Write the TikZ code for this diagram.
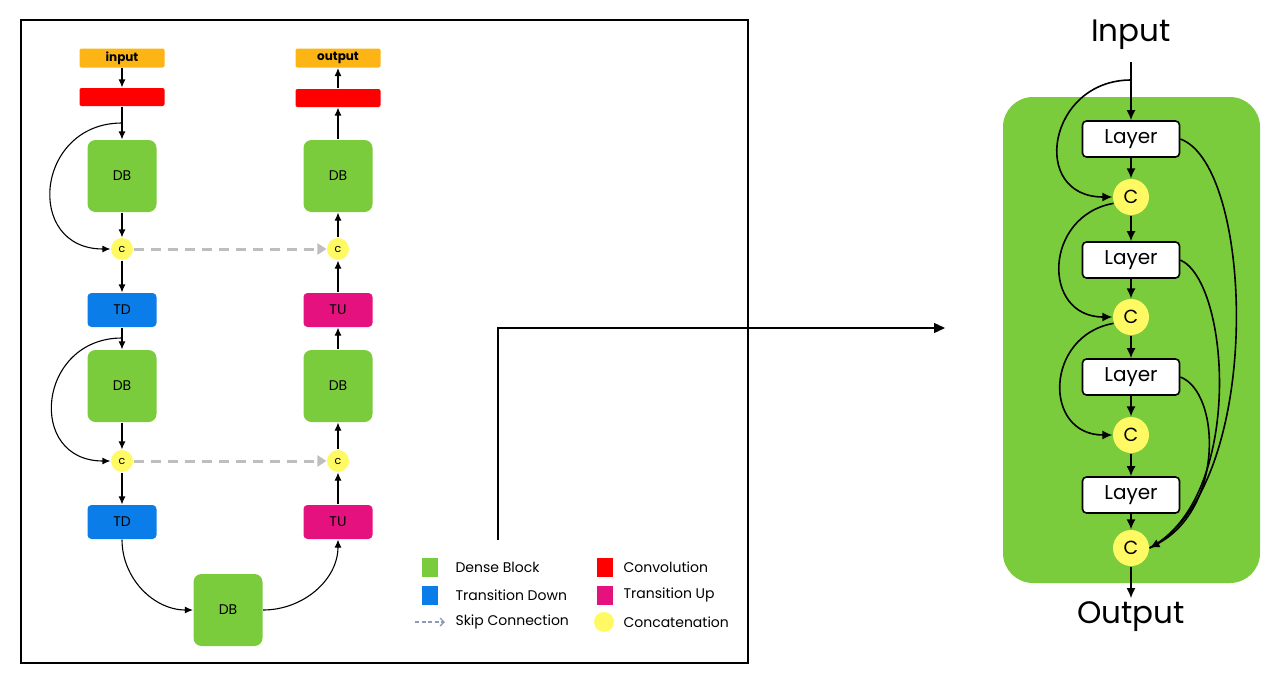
\documentclass[tikz,border=0pt]{standalone}
\usepackage{fontspec}
\setmainfont{Poppins}
\usepackage{tikz}
\usetikzlibrary{arrows.meta,positioning}

\definecolor{dbgreen}{RGB}{122,204,60}
\definecolor{inorange}{RGB}{252,181,20}
\definecolor{convred}{RGB}{255,0,0}
\definecolor{tdblue}{RGB}{10,125,232}
\definecolor{tupink}{RGB}{228,17,126}
\definecolor{catyellow}{RGB}{255,250,100}
\definecolor{skipgray}{RGB}{190,190,190}
\definecolor{legendgray}{RGB}{140,155,180}

\newcommand{\fs}[1]{\fontsize{#1}{#1}\selectfont}

\begin{document}
\begin{tikzpicture}
[x=1pt,y=-1pt,->,>={Latex[length=8pt,width=7pt]},line width=1.1pt,
io/.style={rectangle,rounded corners=2pt,fill=inorange,minimum width=85pt,minimum height=19pt,inner sep=0pt,font=\fs{12}\bfseries},
conv/.style={rectangle,rounded corners=2pt,fill=convred,minimum width=85pt,minimum height=18pt,inner sep=0pt},
dense/.style={rectangle,rounded corners=8pt,fill=dbgreen,minimum width=69pt,minimum height=72pt,inner sep=0pt,font=\fs{14}},
trans/.style={rectangle,rounded corners=4pt,minimum width=69pt,minimum height=34pt,inner sep=0pt,font=\fs{14}},
cat/.style={circle,fill=catyellow,minimum size=22pt,inner sep=0pt,font=\fs{11}},
layer/.style={rectangle,rounded corners=4pt,draw=black,line width=1.6pt,fill=white,minimum width=97pt,minimum height=36pt,inner sep=0pt,font=\fs{20}},
bigcat/.style={circle,fill=catyellow,minimum size=36pt,inner sep=0pt,font=\fs{19}},
swatch/.style={rectangle,minimum width=16pt,minimum height=19pt,inner sep=0pt},
legtext/.style={anchor=west,inner sep=0pt,font=\fs{14}},
skip/.style={->,skipgray,line width=3pt,dash pattern=on 10pt off 7pt,>={Triangle[length=9pt,width=11pt]}}]
\useasboundingbox (0,0) rectangle (1280,675);

% frame
\draw[-,line width=1.4pt] (21,20) rectangle (748,663);

% down path
\node[io]    at (122,58)  (inp) {input};
\node[conv]  at (122,97)  (cva) {};
\node[dense] at (122,176) (db1) {DB};
\node[cat]   at (122,249) (c1)  {c};
\node[trans,fill=tdblue] at (122,310) (td1) {TD};
\node[dense] at (122,386) (db2) {DB};
\node[cat]   at (122,461) (c2)  {c};
\node[trans,fill=tdblue] at (122,522) (td2) {TD};
\node[dense] at (228,610) (db3) {DB};

% up path
\node[io]    at (338,58)  (outp) {output};
\node[conv]  at (338,98)  (cvb) {};
\node[dense] at (338,176) (db5) {DB};
\node[cat]   at (338,249) (c4)  {c};
\node[trans,fill=tupink] at (338,310) (tu1) {TU};
\node[dense] at (338,386) (db4) {DB};
\node[cat]   at (338,461) (c3)  {c};
\node[trans,fill=tupink] at (338,522) (tu2) {TU};

\coordinate (s1) at (122,123);
\coordinate (s2) at (122,338);

\draw (inp) -- (cva);
\draw (cva) -- (db1);
\draw (db1) -- (c1);
\draw (c1) -- (td1);
\draw (td1) -- (db2);
\draw (db2) -- (c2);
\draw (c2) -- (td2);
\draw (s1) to[out=180,in=180,looseness=1.75] (c1.west);
\draw (s2) to[out=180,in=180,looseness=1.75] (c2.west);
\draw (td2.south) to[out=-90,in=180] (db3.west);
\draw (db3.east) to[out=0,in=-90] (tu2.south);
\draw (tu2) -- (c3);
\draw (c3) -- (db4);
\draw (db4) -- (tu1);
\draw (tu1) -- (c4);
\draw (c4) -- (db5);
\draw (db5) -- (cvb);
\draw (cvb) -- (outp);

\draw[skip] (c1) -- (c4);
\draw[skip] (c2) -- (c3);

% legend
\node[swatch,fill=dbgreen] at (430,567) (lg1) {};
\node[swatch,fill=tdblue]  at (430,595) (lg2) {};
\coordinate (lg3a) at (415,622);
\coordinate (lg3b) at (445,622);
\node[swatch,fill=convred] at (605,567) (lg4) {};
\node[swatch,fill=tupink]  at (605,595) (lg5) {};
\node[circle,fill=catyellow,minimum size=20pt,inner sep=0pt] at (604,622) (lg6) {};
\draw[->,legendgray,line width=1.4pt,dash pattern=on 4pt off 2.5pt,>={Straight Barb[length=4pt,width=8pt]}] (lg3a) -- (lg3b);
\node[legtext] at (455,567) {Dense Block};
\node[legtext] at (455,595) {Transition Down};
\node[legtext] at (455,622) {Skip Connection};
\node[legtext] at (623,567) {Convolution};
\node[legtext] at (623,595) {Transition Up};
\node[legtext] at (623,622) {Concatenation};

% zoom arrow
\coordinate (za) at (498,540);
\coordinate (zb) at (498,328);
\coordinate (zc) at (945,328);
\draw[line width=1.4pt,>={Triangle[length=11pt,width=10pt]}] (za) -- (zb) -- (zc);

% dense block detail
\fill[dbgreen,rounded corners=30pt] (1003,97) rectangle (1260,583);
\node[font=\fs{31}] at (1131,35)  (din)  {Input};
\node[layer]  at (1131,139) (l1) {Layer};
\node[bigcat] at (1131,197) (k1) {C};
\node[layer]  at (1131,260) (l2) {Layer};
\node[bigcat] at (1131,317) (k2) {C};
\node[layer]  at (1131,377) (l3) {Layer};
\node[bigcat] at (1131,435) (k3) {C};
\node[layer]  at (1131,495) (l4) {Layer};
\node[bigcat] at (1131,548) (k4) {C};
\node[font=\fs{31}] at (1131,617) (dout) {Output};
\coordinate (dtop) at (1131,62);
\coordinate (dsplit) at (1131,80);

\begin{scope}[line width=1.6pt,>={Latex[length=10pt,width=9pt]}]
\draw (dtop) -- (l1);
\draw (l1) -- (k1);
\draw (k1) -- (l2);
\draw (l2) -- (k2);
\draw (k2) -- (l3);
\draw (l3) -- (k3);
\draw (k3) -- (l4);
\draw (l4) -- (k4);
\draw (k4) -- (dout);
\draw (dsplit) to[out=180,in=180,looseness=1.8] (k1.west);
\draw (k1.200) to[out=190,in=180,looseness=1.6] (k2.west);
\draw (k2.200) to[out=190,in=180,looseness=1.6] (k3.west);
\draw[-] (l1.east) .. controls +(75,27) and +(115,-58) .. (k4.east);
\draw[-] (l2.east) .. controls +(50,22) and +(95,-50) .. (k4.east);
\draw (l3.east) .. controls +(40,15) and +(75,-40) .. (k4.east);
\end{scope}
\end{tikzpicture}
\end{document}
